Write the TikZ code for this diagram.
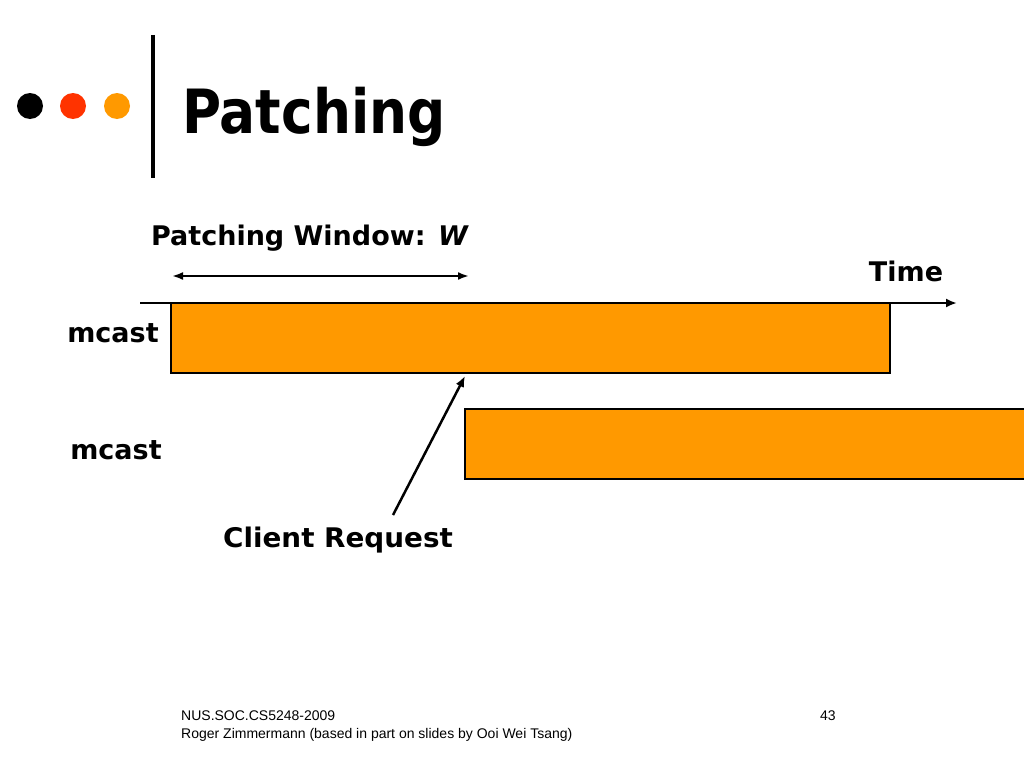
\documentclass[tikz,border=0pt]{standalone}
\usepackage{fontspec}
\setmainfont{DejaVu Sans}
\newfontfamily\footfont{Liberation Sans}
\usetikzlibrary{arrows.meta}
\definecolor{slideorange}{HTML}{FF9900}
\definecolor{slidered}{HTML}{FF3300}
\begin{document}
\begin{tikzpicture}[x=1pt,y=-1pt,
  lbl/.style={font=\fontsize{27}{32}\selectfont\bfseries, inner sep=0pt},
  bar/.style={draw=black, line width=2.8pt, fill=slideorange},
  arr/.style={line width=2.5pt, -{Latex[length=11pt,width=9pt]}},
  foot/.style={font=\footfont\fontsize{14}{17}\selectfont, inner sep=0pt, anchor=base west}]
\useasboundingbox (0,0) rectangle (1024,768);
% header
\fill[black] (30,106) circle (13);
\fill[slidered] (73,106) circle (13);
\fill[slideorange] (117,106) circle (13);
\draw[line width=4pt] (153,35) -- (153,178);
\node[anchor=base west, inner sep=0pt, font=\fontsize{61}{70}\selectfont\bfseries] (title) at (182,133) {\scalebox{0.875}[1]{Patching}};
% labels
\node[lbl] (pw) at (310,238) {Patching Window: \textit{W}};
\node[lbl] (time) at (906,271) {Time};
\node[lbl] (m1) at (113,333) {mcast};
\node[lbl] (m2) at (116,450) {mcast};
\node[lbl] (cr) at (338,540) {\scalebox{1.03}[1]{Client Request}};
% bars
\draw[bar] (171,303) rectangle (890,373);
\fill[slideorange] (465,409) rectangle (1030,479);
\draw[black, line width=2.8pt] (1030,409) -- (465,409) -- (465,479) -- (1030,479);
% axis
\coordinate (a0) at (140,303);
\coordinate (a1) at (957,303);
\draw[arr] (a0) -- (a1);
% window
\coordinate (w0) at (172,276);
\coordinate (w1) at (469,276);
\draw[line width=2.2pt, {Latex[length=11pt,width=8pt]}-{Latex[length=11pt,width=8pt]}] (w0) -- (w1);
% client request arrow
\coordinate (c0) at (393,515);
\coordinate (c1) at (465,376);
\draw[arr] (c0) -- (c1);
% footer
\node[foot] (f1) at (181,720) {NUS.SOC.CS5248-2009};
\node[foot] (f2) at (181,738) {Roger Zimmermann (based in part on slides by Ooi Wei Tsang)};
\node[foot] (pg) at (820,720) {43};
\end{tikzpicture}
\end{document}
